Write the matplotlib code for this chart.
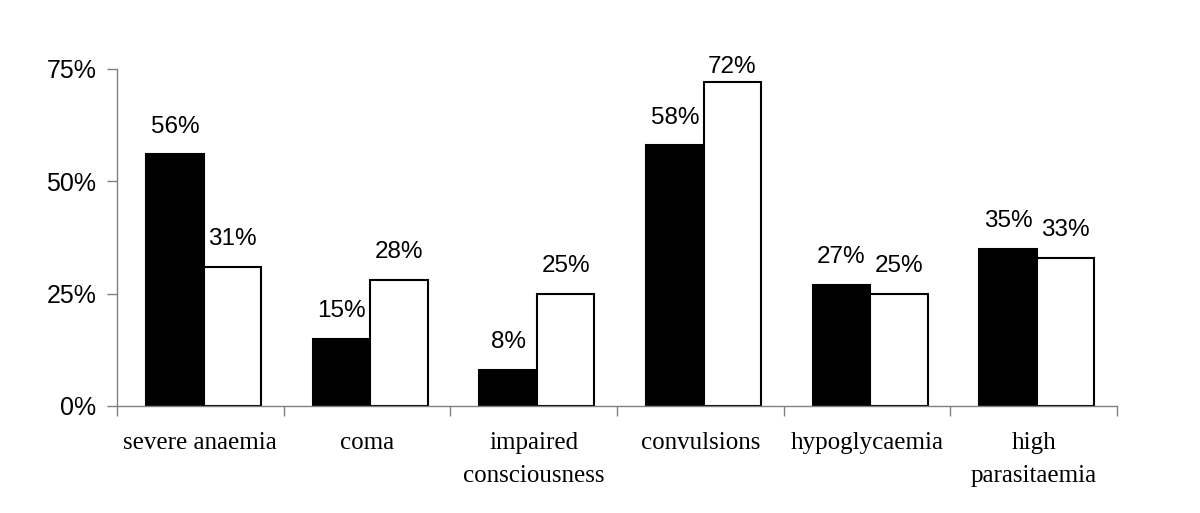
import matplotlib
matplotlib.use("Agg")
import matplotlib.pyplot as plt
import numpy as np

categories = ["severe anaemia", "coma", "impaired\nconsciousness", "convulsions",
              "hypoglycaemia", "high\nparasitaemia"]
series_a = [56, 15, 8, 58, 27, 35]   # black bars
series_b = [31, 28, 25, 72, 25, 33]  # white bars
yticks = [0, 25, 50, 75]
ytick_labels = ["0%", "25%", "50%", "75%"]

fig = plt.figure(figsize=(12, 5.13), dpi=100)
ax = fig.add_axes([0.0975, 0.2086, 0.8333, 0.657])

x = np.arange(len(categories)) + 0.5
w = 0.345
off = 0.02
ba = ax.bar(x + off - w / 2, series_a, width=w, color="black", edgecolor="black", linewidth=1.5)
bb = ax.bar(x + off + w / 2, series_b, width=w, color="white", edgecolor="black", linewidth=1.5)

for bars, vals in ((ba, series_a), (bb, series_b)):
    for r, v in zip(bars, vals):
        dy = 12 if v < 65 else 3
        ax.annotate(f"{v}%", (r.get_x() + r.get_width() / 2, v), xytext=(0, dy),
                    textcoords="offset points", ha="center", va="bottom",
                    fontsize=17.5, family="Liberation Sans", annotation_clip=False)

ax.set_xlim(0, len(categories))
ax.set_ylim(0, 75)
ax.set_yticks(yticks)
ax.set_yticklabels(ytick_labels, family="Liberation Sans", fontsize=18)
ax.set_xticks(np.arange(len(categories) + 1))
ax.set_xticklabels([])
ax.set_xticks(x, minor=True)
ax.set_xticklabels(categories, minor=True, family="Liberation Serif", fontsize=18,
                   linespacing=1.65)
ax.tick_params(axis="x", which="minor", length=0, pad=19)
ax.tick_params(axis="x", which="major", length=7, color="#808080", width=1)
ax.tick_params(axis="y", length=7, color="#808080", width=1, pad=8)

for s in ("top", "right"):
    ax.spines[s].set_visible(False)
for s in ("left", "bottom"):
    ax.spines[s].set_color("#808080")
    ax.spines[s].set_linewidth(1)

fig.savefig("out.png", dpi=100)
